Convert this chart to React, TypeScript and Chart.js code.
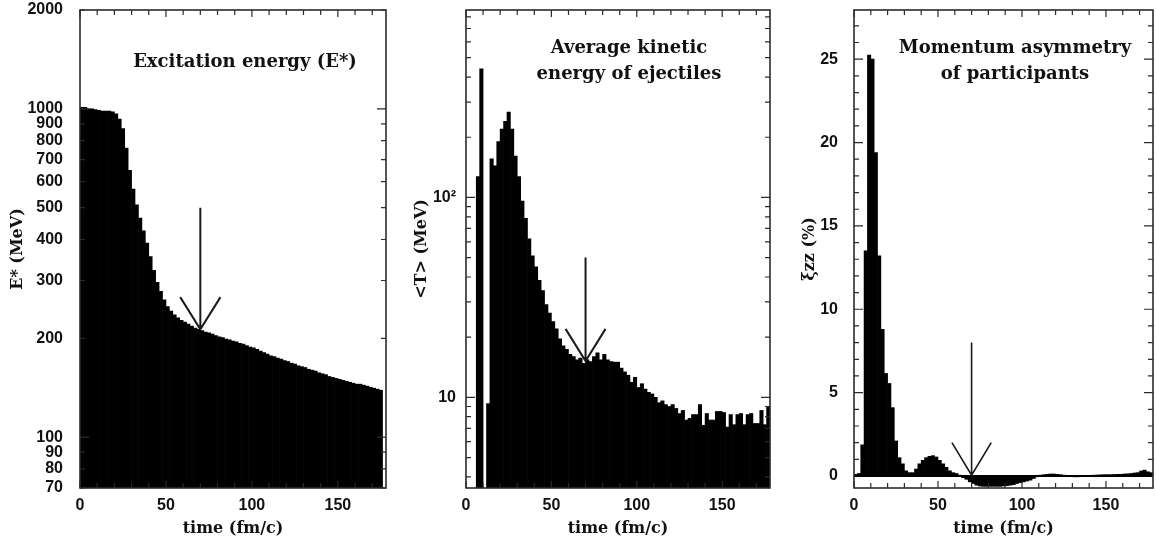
import React, { useEffect, useRef } from 'react';
import { Chart, registerables } from 'chart.js';

Chart.register(...registerables);

// ---------- data ----------
const TIME = [
  1, 3, 5, 7, 9, 11, 13, 15, 17, 19, 21, 23, 25, 27, 29, 31, 33, 35, 37, 39,
  41, 43, 45, 47, 49, 51, 53, 55, 57, 59, 61, 63, 65, 67, 69, 71, 73, 75, 77, 79,
  81, 83, 85, 87, 89, 91, 93, 95, 97, 99, 101, 103, 105, 107, 109, 111, 113, 115, 117, 119,
  121, 123, 125, 127, 129, 131, 133, 135, 137, 139, 141, 143, 145, 147, 149, 151, 153, 155, 157, 159,
  161, 163, 165, 167, 169, 171, 173, 175, 177,
];

// Excitation energy E* (MeV)
const E_STAR = [
  1010, 1010, 1000, 1000, 995, 990, 985, 985, 985, 980,
  965, 930, 870, 760, 650, 570, 510, 465, 425, 390,
  355, 322, 296, 278, 262, 250, 242, 236, 231, 227,
  224, 221, 218, 215, 213, 211, 209, 208, 206, 204,
  202, 201, 199, 198, 196, 195, 193, 192, 190, 188,
  187, 185, 183, 181, 179, 177, 176, 174, 173, 171,
  170, 168, 167, 165, 164, 163, 161, 160, 159, 157,
  156, 155, 153, 152, 151, 150, 149, 148, 147, 146,
  145, 145, 144, 143, 142, 141, 140, 139, null,
];

// Average kinetic energy of ejectiles <T> (MeV)
const T_AVG = [
  null, null, null, 127, 440, null, 9.3, 156, 144, 190,
  220, 240, 267, 220, 161, 127, 96, 78.6, 62, 51,
  45, 38.5, 34.2, 29.1, 26.4, 23.9, 22, 19.6, 18.1, 17.4,
  16.4, 16.0, 15.4, 15.7, 14.8, 15.4, 15.1, 16.0, 16.7, 15.4,
  16.4, 15.4, 15.1, 15.0, 15.0, 14.0, 13.4, 12.9, 11.9, 12.6,
  11.2, 11.7, 11.0, 10.6, 10.4, 10.0, 9.4, 9.6, 9.2, 9.0,
  9.2, 8.8, 8.3, 8.6, 7.7, 7.85, 8.2, 8.2, 9.2, 7.25,
  8.3, 7.7, 7.7, 8.5, 8.5, 8.4, 7.1, 8.2, 7.3, 8.2,
  8.3, 7.3, 8.2, 8.3, 7.4, 7.4, 8.6, 7.3, 9.0,
];

// Momentum asymmetry of participants xi_zz (%)
const XI_ZZ = [
  0.1, 0.15, 1.87, 13.5, 25.25, 25.0, 19.4, 13.2, 8.8, 6.15,
  5.55, 4.1, 2.1, 1.1, 0.73, 0.31, 0.2, 0.2, 0.42, 0.73,
  0.94, 1.1, 1.18, 1.22, 1.14, 0.94, 0.73, 0.52, 0.31, 0.2,
  0.15, 0.05, -0.1, -0.2, -0.35, -0.45, -0.55, -0.6, -0.62, -0.62,
  -0.62, -0.62, -0.62, -0.62, -0.6, -0.58, -0.55, -0.52, -0.45, -0.4,
  -0.35, -0.3, -0.25, -0.15, -0.05, 0.05, 0.08, 0.1, 0.12, 0.12,
  0.1, 0.08, 0.05, 0.02, -0.02, -0.05, -0.05, -0.03, 0.0, 0.02,
  0.04, 0.05, 0.06, 0.07, 0.08, 0.08, 0.08, 0.09, 0.1, 0.1,
  0.12, 0.13, 0.15, 0.18, 0.2, 0.3, 0.35, 0.25, 0.2,
];

// ---------- ticks ----------
const X_TICKS = [0, 50, 100, 150];
const X_MINOR_TICKS = [0, 10, 20, 30, 40, 50, 60, 70, 80, 90, 100, 110, 120, 130, 140, 150, 160, 170];
const E_TICKS = [70, 80, 90, 100, 200, 300, 400, 500, 600, 700, 800, 900, 1000, 2000];
const E_MAJOR_TICKS = [100, 1000];
const T_TICKS = [10, 100];
const T_TICK_LABELS = ['10', '10²'];
const T_MINOR_TICKS = [4, 5, 6, 7, 8, 9, 10, 20, 30, 40, 50, 60, 70, 80, 90, 100, 200, 300, 400, 500, 600, 700, 800];
const XI_TICKS = [0, 5, 10, 15, 20, 25];
const XI_MINOR_TICKS = [0, 1, 2, 3, 4, 5, 6, 7, 8, 9, 10, 11, 12, 13, 14, 15, 16, 17, 18, 19, 20, 21, 22, 23, 24, 25, 26, 27];

// ---------- arrows (data coords) ----------
const ARROW_T = 70;
const ARROW_HALF = 11.7;
const E_ARROW = { top: 500, tip: 213, head: 267 };
const T_ARROW = { top: 50, tip: 15.2, head: 22 };
const XI_ARROW = { top: 8, tip: 0.05, head: 2 };

// ---------- styles ----------
const TEXT = '#111';
const INK = '#000';
const FRAME = '#2b2b2b';
const TICK_FONT = { family: '"Liberation Sans", Arial, sans-serif', size: 16, weight: 'bold' as const };
const AXIS_TITLE_FONT = { family: '"DejaVu Serif", serif', size: 16, weight: 'bold' as const };
const PANEL_TITLE_FONT = 'bold 18px "DejaVu Serif", serif';

type Spec = {
  left: number;
  width: number;
  yWidth: number;
  padRight: number;
  values: (number | null)[];
  yType: 'logarithmic' | 'linear';
  yMin: number;
  yMax: number;
  yTicks: number[];
  yLabel: (v: number) => string;
  yMinor: number[];
  yMajor: number[];
  yTitle: string;
  yTitlePad: number;
  yLabelPad: number;
  arrow: { top: number; tip: number; head: number };
  arrowWidth: number;
  lines: string[];
  textX: number;
  zeroLine: boolean;
};

function frameTicksPlugin(spec: Spec) {
  return {
    id: 'frameTicks',
    afterDatasetsDraw(chart: any) {
      const { ctx, chartArea: a, scales } = chart;
      const xs = scales.x;
      const ys = scales.y;
      ctx.save();
      ctx.strokeStyle = FRAME;
      ctx.lineWidth = 1.2;
      ctx.beginPath();
      X_MINOR_TICKS.forEach((v) => {
        const px = xs.getPixelForValue(v);
        if (px < a.left - 0.5 || px > a.right + 0.5) return;
        const len = X_TICKS.includes(v) ? 7 : 5;
        ctx.moveTo(px, a.top);
        ctx.lineTo(px, a.top + len);
        ctx.moveTo(px, a.bottom);
        ctx.lineTo(px, a.bottom - len);
      });
      spec.yMinor.forEach((v) => {
        const py = ys.getPixelForValue(v);
        if (py < a.top - 0.5 || py > a.bottom + 0.5) return;
        const len = spec.yMajor.includes(v) ? 9 : 5;
        ctx.moveTo(a.left, py);
        ctx.lineTo(a.left + len, py);
        ctx.moveTo(a.right, py);
        ctx.lineTo(a.right - len, py);
      });
      ctx.stroke();
      if (spec.zeroLine) {
        const p0 = ys.getPixelForValue(0);
        ctx.lineWidth = 2;
        ctx.strokeStyle = INK;
        ctx.beginPath();
        ctx.moveTo(a.left, p0);
        ctx.lineTo(a.right, p0);
        ctx.stroke();
      }
      ctx.lineWidth = 1.6;
      ctx.strokeStyle = FRAME;
      ctx.strokeRect(a.left, a.top, a.right - a.left, a.bottom - a.top);
      ctx.restore();
    },
  };
}

function arrowPlugin(spec: Spec) {
  return {
    id: 'arrow',
    afterDatasetsDraw(chart: any) {
      const { ctx, scales } = chart;
      const xs = scales.x;
      const ys = scales.y;
      const x0 = xs.getPixelForValue(ARROW_T);
      const xl = xs.getPixelForValue(ARROW_T - ARROW_HALF);
      const xr = xs.getPixelForValue(ARROW_T + ARROW_HALF);
      const yTop = ys.getPixelForValue(spec.arrow.top);
      const yTip = ys.getPixelForValue(spec.arrow.tip);
      const yHead = ys.getPixelForValue(spec.arrow.head);
      ctx.save();
      ctx.strokeStyle = '#1a1a1a';
      ctx.lineWidth = spec.arrowWidth;
      ctx.lineCap = 'butt';
      ctx.beginPath();
      ctx.moveTo(x0, yTop);
      ctx.lineTo(x0, yTip);
      ctx.moveTo(xl, yHead);
      ctx.lineTo(x0, yTip);
      ctx.lineTo(xr, yHead);
      ctx.stroke();
      ctx.restore();
    },
  };
}

function textPlugin(spec: Spec) {
  return {
    id: 'panelText',
    afterDatasetsDraw(chart: any) {
      const { ctx } = chart;
      ctx.save();
      ctx.fillStyle = TEXT;
      ctx.font = PANEL_TITLE_FONT;
      ctx.textAlign = 'center';
      ctx.textBaseline = 'middle';
      spec.lines.forEach((line, i) => {
        const y = spec.lines.length === 1 ? 62 : 48 + i * 26;
        ctx.fillText(line, spec.textX, y);
      });
      ctx.restore();
    },
  };
}

function makeConfig(spec: Spec): any {
  return {
    type: 'bar',
    data: {
      datasets: [
        {
          data: TIME.map((t, i) => ({ x: t, y: spec.values[i] })),
          backgroundColor: INK,
          borderWidth: 0,
          barPercentage: 1,
          categoryPercentage: 1,
        },
      ],
    },
    options: {
      responsive: false,
      animation: false,
      events: [],
      layout: { padding: { top: 10, right: spec.padRight, left: 0, bottom: 0 } },
      plugins: { legend: { display: false }, tooltip: { enabled: false } },
      scales: {
        x: {
          type: 'linear',
          min: 0,
          max: 178,
          offset: false,
          grid: { display: false, drawTicks: false },
          border: { display: false },
          afterBuildTicks: (s: any) => {
            s.ticks = X_TICKS.map((v) => ({ value: v }));
          },
          afterFit: (s: any) => {
            s.height = 57;
            s.paddingLeft = 0;
            s.paddingRight = 0;
            s.paddingTop = 0;
            s.paddingBottom = 0;
          },
          ticks: {
            padding: 8,
            font: TICK_FONT,
            color: TEXT,
            maxRotation: 0,
            autoSkip: false,
            callback: (v: number) => String(v),
          },
          title: {
            display: true,
            text: 'time (fm/c)',
            font: AXIS_TITLE_FONT,
            color: TEXT,
            padding: { top: 0, bottom: 7 },
          },
        },
        y: {
          type: spec.yType,
          min: spec.yMin,
          max: spec.yMax,
          grid: { display: false, drawTicks: false },
          border: { display: false },
          afterBuildTicks: (s: any) => {
            s.ticks = spec.yTicks.map((v) => ({ value: v }));
          },
          afterFit: (s: any) => {
            s.width = spec.yWidth;
            s.paddingLeft = 0;
            s.paddingRight = 0;
            s.paddingTop = 0;
            s.paddingBottom = 0;
          },
          ticks: {
            padding: spec.yLabelPad,
            font: TICK_FONT,
            color: TEXT,
            autoSkip: false,
            callback: (v: number) => spec.yLabel(v),
          },
          title: {
            display: true,
            text: spec.yTitle,
            font: AXIS_TITLE_FONT,
            color: TEXT,
            padding: { top: spec.yTitlePad, bottom: 0 },
          },
        },
      },
    },
    plugins: [frameTicksPlugin(spec), arrowPlugin(spec), textPlugin(spec)],
  };
}

const SPECS: Spec[] = [
  {
    left: 0,
    width: 400,
    yWidth: 80,
    padRight: 14,
    values: E_STAR,
    yType: 'logarithmic',
    yMin: 70,
    yMax: 2000,
    yTicks: E_TICKS,
    yLabel: (v) => String(v),
    yMinor: E_TICKS,
    yMajor: E_MAJOR_TICKS,
    yTitle: 'E* (MeV)',
    yTitlePad: 8,
    yLabelPad: 17,
    arrow: E_ARROW,
    arrowWidth: 2,
    lines: ['Excitation energy (E*)'],
    textX: 245,
    zeroLine: false,
  },
  {
    left: 400,
    width: 385,
    yWidth: 66,
    padRight: 15,
    values: T_AVG,
    yType: 'logarithmic',
    yMin: 3.52,
    yMax: 866,
    yTicks: T_TICKS,
    yLabel: (v) => T_TICK_LABELS[T_TICKS.indexOf(v)] ?? '',
    yMinor: T_MINOR_TICKS,
    yMajor: T_TICKS,
    yTitle: '<T> (MeV)',
    yTitlePad: 12,
    yLabelPad: 10,
    arrow: T_ARROW,
    arrowWidth: 2,
    lines: ['Average kinetic', 'energy of ejectiles'],
    textX: 229,
    zeroLine: false,
  },
  {
    left: 785,
    width: 371,
    yWidth: 69,
    padRight: 3,
    values: XI_ZZ,
    yType: 'linear',
    yMin: -0.72,
    yMax: 27.95,
    yTicks: XI_TICKS,
    yLabel: (v) => String(v),
    yMinor: XI_MINOR_TICKS,
    yMajor: XI_TICKS,
    yTitle: 'ξzz (%)',
    yTitlePad: 15,
    yLabelPad: 16,
    arrow: XI_ARROW,
    arrowWidth: 1.6,
    lines: ['Momentum asymmetry', 'of participants'],
    textX: 230,
    zeroLine: true,
  },
];

function Panel({ spec }: { spec: Spec }) {
  const ref = useRef<HTMLCanvasElement | null>(null);
  useEffect(() => {
    if (!ref.current) return;
    const chart = new Chart(ref.current, makeConfig(spec));
    return () => chart.destroy();
  }, [spec]);
  return (
    <canvas
      ref={ref}
      width={spec.width}
      height={545}
      style={{ position: 'absolute', left: spec.left, top: 0, width: spec.width, height: 545 }}
    />
  );
}

export default function App() {
  return (
    <div
      style={{
        position: 'fixed',
        left: 0,
        top: 0,
        width: 1156,
        height: 545,
        background: '#fff',
        overflow: 'hidden',
      }}
    >
      {SPECS.map((s, i) => (
        <Panel key={i} spec={s} />
      ))}
    </div>
  );
}
